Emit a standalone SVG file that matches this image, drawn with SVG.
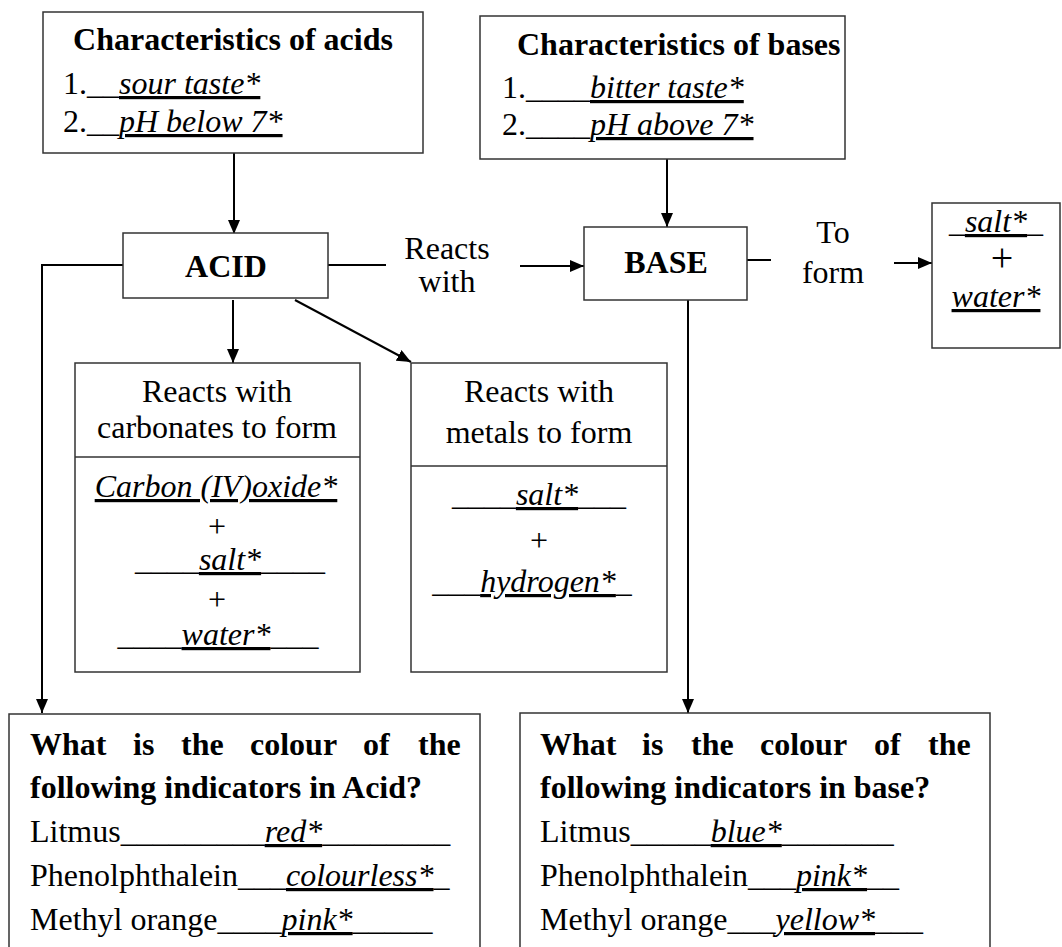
<svg xmlns="http://www.w3.org/2000/svg" width="1062" height="947" viewBox="0 0 1062 947">
  <style>
    .box { fill: #ffffff; stroke: #333333; stroke-width: 1.5; }
    .wire { fill: none; stroke: #000000; stroke-width: 2; }
    text { font-family: "Liberation Serif", "Times New Roman", serif; font-size: 32px; fill: #000000; }
    .b { font-weight: bold; }
    .c { text-anchor: middle; }
    .ans { font-style: italic; text-decoration: underline; }
    .big { font-size: 40px; }
  </style>
  <defs>
    <marker id="arrow" viewBox="0 0 14 12" refX="14" refY="6" markerWidth="14" markerHeight="12" markerUnits="userSpaceOnUse" orient="auto">
      <path d="M0,0 L14,6 L0,12 Z" fill="#000000"/>
    </marker>
  </defs>

  <!-- connectors -->
  <g id="connectors">
    <line class="wire" x1="234" y1="153" x2="234" y2="234" marker-end="url(#arrow)"/>
    <line class="wire" x1="667" y1="159" x2="667" y2="227" marker-end="url(#arrow)"/>
    <polyline class="wire" points="123,265 42,265 42,713" marker-end="url(#arrow)"/>
    <line class="wire" x1="328" y1="265" x2="386" y2="265"/>
    <line class="wire" x1="520" y1="266" x2="584" y2="266" marker-end="url(#arrow)"/>
    <line class="wire" x1="747" y1="260" x2="771" y2="260"/>
    <line class="wire" x1="894" y1="263" x2="932" y2="263" marker-end="url(#arrow)"/>
    <line class="wire" x1="233" y1="300" x2="233" y2="363" marker-end="url(#arrow)"/>
    <line class="wire" x1="295" y1="300" x2="411" y2="362" marker-end="url(#arrow)"/>
    <line class="wire" x1="688" y1="300" x2="688" y2="713" marker-end="url(#arrow)"/>
    <text x="447" y="259" class="c">Reacts</text>
    <text x="447" y="292" class="c">with</text>
    <text x="833" y="243" class="c">To</text>
    <text x="833" y="283" class="c">form</text>
  </g>

  <!-- characteristics of acids -->
  <g id="acid-characteristics">
    <rect class="box" x="43" y="12" width="380" height="141"/>
    <text x="233" y="50" class="b c">Characteristics of acids</text>
    <text x="63" y="94">1.__<tspan class="ans">sour taste*</tspan></text>
    <text x="63" y="132">2.__<tspan class="ans">pH below 7*</tspan></text>
  </g>

  <!-- characteristics of bases -->
  <g id="base-characteristics">
    <rect class="box" x="480" y="16" width="365" height="143"/>
    <text x="517" y="55" class="b">Characteristics of bases</text>
    <text x="502" y="98">1.____<tspan class="ans">bitter taste*</tspan></text>
    <text x="502" y="135">2.____<tspan class="ans">pH above 7*</tspan></text>
  </g>

  <!-- acid -->
  <g id="acid">
    <rect class="box" x="123" y="233" width="205" height="65"/>
    <text x="226" y="277" class="b c">ACID</text>
  </g>

  <!-- base -->
  <g id="base">
    <rect class="box" x="584" y="227" width="163" height="73"/>
    <text x="666" y="273" class="b c">BASE</text>
  </g>

  <!-- products of neutralisation -->
  <g id="salt-water">
    <rect class="box" x="932" y="203" width="128" height="145"/>
    <text x="996" y="232" class="c">_<tspan class="ans">salt*</tspan>_</text>
    <text x="1002" y="271" class="c big">+</text>
    <text x="996" y="307" class="c"><tspan class="ans">water*</tspan></text>
  </g>

  <!-- acid + carbonate -->
  <g id="carbonates">
    <rect class="box" x="75" y="363" width="285" height="309"/>
    <line class="box" x1="75" y1="457" x2="360" y2="457"/>
    <text x="217" y="402" class="c">Reacts with</text>
    <text x="217" y="438" class="c">carbonates to form</text>
    <text x="216" y="497" class="c"><tspan class="ans">Carbon (IV)oxide*</tspan></text>
    <text x="217" y="537" class="c">+</text>
    <text x="230" y="570" class="c">____<tspan class="ans">salt*</tspan>____</text>
    <text x="217" y="610" class="c">+</text>
    <text x="218" y="645" class="c">____<tspan class="ans">water*</tspan>___</text>
  </g>

  <!-- acid + metal -->
  <g id="metals">
    <rect class="box" x="411" y="363" width="256" height="309"/>
    <line class="box" x1="411" y1="466" x2="667" y2="466"/>
    <text x="539" y="402" class="c">Reacts with</text>
    <text x="539" y="443" class="c">metals to form</text>
    <text x="539" y="505" class="c">____<tspan class="ans">salt*</tspan>___</text>
    <text x="539" y="551" class="c">+</text>
    <text x="532" y="592" class="c">___<tspan class="ans">hydrogen*</tspan>_</text>
  </g>

  <!-- indicators in acid -->
  <g id="acid-indicators">
    <path class="box" d="M9,960 L9,714 L480,714 L480,960"/>
    <text y="755" class="b"><tspan x="30">What</tspan><tspan x="133">is</tspan><tspan x="181">the</tspan><tspan x="250">colour</tspan><tspan x="363">of</tspan><tspan x="418">the</tspan></text>
    <text x="30" y="798" class="b">following indicators in Acid?</text>
    <text x="30" y="842">Litmus_________<tspan class="ans">red*</tspan>________</text>
    <text x="30" y="886">Phenolphthalein___<tspan class="ans">colourless*</tspan>_</text>
    <text x="30" y="930">Methyl orange____<tspan class="ans">pink*</tspan>_____</text>
  </g>

  <!-- indicators in base -->
  <g id="base-indicators">
    <path class="box" d="M520,960 L520,713 L990,713 L990,960"/>
    <text y="755" class="b"><tspan x="540">What</tspan><tspan x="642">is</tspan><tspan x="691">the</tspan><tspan x="760">colour</tspan><tspan x="874">of</tspan><tspan x="928">the</tspan></text>
    <text x="540" y="798" class="b">following indicators in base?</text>
    <text x="540" y="842">Litmus_____<tspan class="ans">blue*</tspan>_______</text>
    <text x="540" y="886">Phenolphthalein___<tspan class="ans">pink*</tspan>__</text>
    <text x="540" y="930">Methyl orange___<tspan class="ans">yellow*</tspan>___</text>
  </g>
</svg>
